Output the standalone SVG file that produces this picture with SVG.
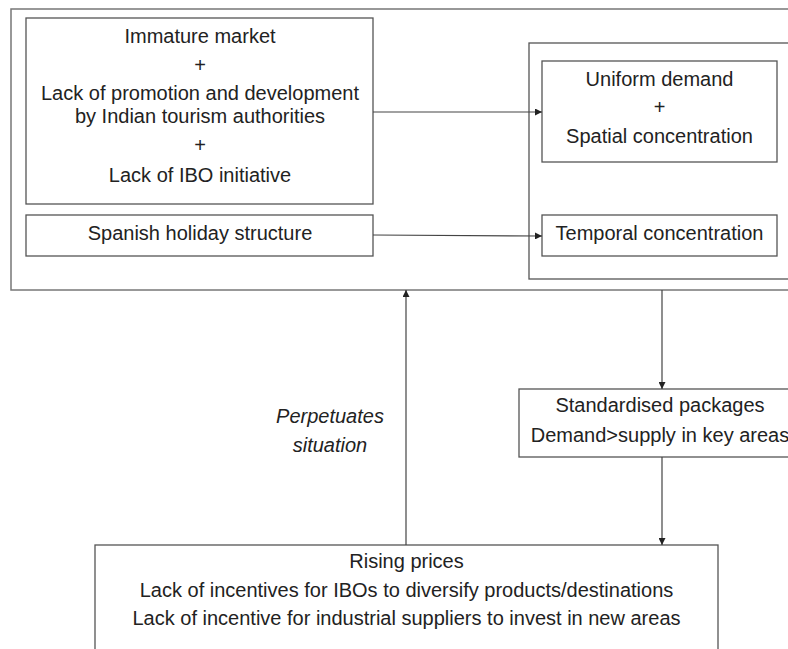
<svg xmlns="http://www.w3.org/2000/svg" width="788" height="649" viewBox="0 0 788 649">
<style>
.box{fill:none;stroke:#555;stroke-width:1.3}
.frame{fill:none;stroke:#777;stroke-width:1.5}
.t{font-family:"Liberation Sans",Arial,sans-serif;font-size:20px;fill:#222;text-anchor:middle}
.i{font-style:italic}
.c{stroke:#444;stroke-width:1.2;fill:none}
</style>
<defs>
<marker id="ah" viewBox="0 0 10 10" refX="10" refY="5" markerWidth="7" markerHeight="7" markerUnits="userSpaceOnUse" orient="auto">
<path d="M0,0 L10,5 L0,10 Z" fill="#222"/>
</marker>
</defs>
<rect width="788" height="649" fill="#fff"/>
<g id="outer"><rect class="frame" x="11" y="9" width="790" height="281"/></g>
<g id="right-container"><rect class="box" x="529" y="43" width="262" height="236"/></g>
<g id="causes">
<rect class="box" x="26" y="18" width="347" height="186"/>
<text class="t" x="200" y="43">Immature market</text>
<text class="t" x="200" y="72">+</text>
<text class="t" x="200" y="100">Lack of promotion and development</text>
<text class="t" x="200" y="123">by Indian tourism authorities</text>
<text class="t" x="200" y="152">+</text>
<text class="t" x="200" y="182">Lack of IBO initiative</text>
</g>
<g id="spanish">
<rect class="box" x="26" y="215" width="347" height="41"/>
<text class="t" x="200" y="240">Spanish holiday structure</text>
</g>
<g id="uniform">
<rect class="box" x="542" y="61" width="235" height="101"/>
<text class="t" x="659.5" y="86">Uniform demand</text>
<text class="t" x="659.5" y="114">+</text>
<text class="t" x="659.5" y="143">Spatial concentration</text>
</g>
<g id="temporal">
<rect class="box" x="542" y="215" width="235" height="41"/>
<text class="t" x="659.5" y="240">Temporal concentration</text>
</g>
<g id="standardised">
<rect class="box" x="519" y="389" width="282" height="68"/>
<text class="t" x="660" y="412">Standardised packages</text>
<text class="t" x="660" y="442">Demand&gt;supply in key areas</text>
</g>
<g id="rising">
<rect class="box" x="95" y="545" width="623" height="120"/>
<text class="t" x="406.5" y="568">Rising prices</text>
<text class="t" x="406.5" y="597">Lack of incentives for IBOs to diversify products/destinations</text>
<text class="t" x="406.5" y="625">Lack of incentive for industrial suppliers to invest in new areas</text>
</g>
<g id="label-perpetuates">
<text class="t i" x="330" y="423">Perpetuates</text>
<text class="t i" x="330" y="452">situation</text>
</g>
<g id="connectors">
<line class="c" x1="373" y1="112" x2="542" y2="112" marker-end="url(#ah)" stroke-width="1.5"/>
<line class="c" x1="373" y1="235" x2="542" y2="236" marker-end="url(#ah)"/>
<line class="c" x1="662" y1="290" x2="662" y2="389" marker-end="url(#ah)"/>
<line class="c" x1="662" y1="457" x2="662" y2="545" marker-end="url(#ah)"/>
<line class="c" x1="406" y1="545" x2="406" y2="290" marker-end="url(#ah)"/>
</g>
</svg>
